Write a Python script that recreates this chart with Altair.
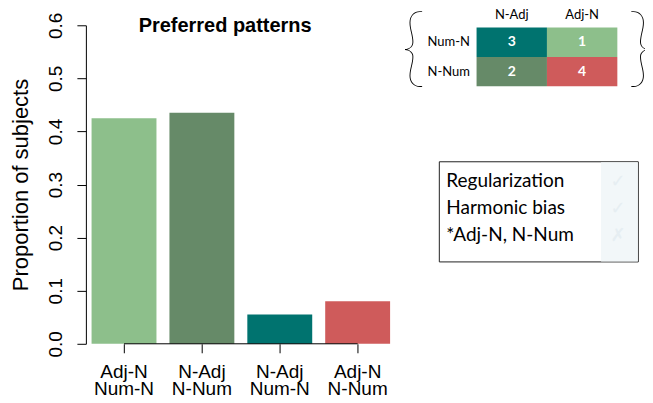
import altair as alt
import pandas as pd

# ---------------- data ----------------
categories = ["Adj-N Num-N", "N-Adj N-Num", "N-Adj Num-N", "Adj-N N-Num"]
proportions = [0.425, 0.435, 0.055, 0.080]
ranks = ["1", "2", "3", "4"]
y_ticks = [0.0, 0.1, 0.2, 0.3, 0.4, 0.5, 0.6]

grid_columns = ["N-Adj", "Adj-N"]
grid_rows = ["Num-N", "N-Num"]
cell_column = ["N-Adj", "Adj-N", "N-Adj", "Adj-N"]
cell_row = ["Num-N", "Num-N", "N-Num", "N-Num"]
cell_rank = ["3", "1", "2", "4"]

legend_items = ["Regularization", "Harmonic bias", "*Adj-N, N-Num"]
legend_checks = ["\u2713", "\u2713", "\u2717"]
chart_title = ["Preferred patterns"]
y_title = "Proportion of subjects"
braces = ["{", "}"]

# ---------------- styles / layout ----------------
palette = ["#8dbf8b", "#668a68", "#00736f", "#cf5b5b"]
W, H = 566, 319
AX_FONT = "Liberation Sans"
GILL = "Lato"

bars_df = pd.DataFrame({"pattern": categories, "prop": proportions, "rank": ranks})
x_scale = alt.Scale(domain=categories, range=[12.7, 311.7], paddingInner=0.1667, paddingOuter=0)
y_scale = alt.Scale(domain=[0, 0.6], nice=False, zero=False)

x_axis = alt.Axis(
    domain=False, ticks=True, tickSize=9, tickColor="black", tickWidth=1,
    labelFont=AX_FONT, labelFontSize=19, labelColor="black", labelAngle=0,
    labelBaseline="top", labelPadding=9.7, labelLineHeight=17.5,
    labelExpr="split(datum.label, ' ')", title=None, grid=False, offset=0,
)
y_axis = alt.Axis(
    values=y_ticks, format=".1f", grid=False, offset=-7,
    domainColor="black", domainWidth=1, tickColor="black", tickSize=9, tickWidth=1,
    labelFont=AX_FONT, labelFontSize=19, labelColor="black", labelAngle=-90,
    labelAlign="center", labelBaseline="alphabetic", labelPadding=15,
    labelOverlap=False, labelFlush=False,
    title=y_title, titleFont=AX_FONT, titleFontSize=22, titleFontWeight="normal",
    titleColor="black", titleAngle=-90, titleAlign="center", titleBaseline="alphabetic",
    titleX=-58, titleY=159.5,
)

bars = alt.Chart(bars_df).mark_bar().encode(
    x=alt.X("pattern:N", scale=x_scale, sort=categories, axis=x_axis),
    y=alt.Y("prop:Q", scale=y_scale, axis=y_axis),
    color=alt.Color("rank:N", scale=alt.Scale(domain=ranks, range=palette), legend=None),
)

axis_df = pd.DataFrame({"pattern": [categories[0]], "pattern_end": [categories[-1]]})
x_line = alt.Chart(axis_df).mark_rule(color="black", strokeWidth=1).encode(
    x=alt.X("pattern:N", scale=x_scale, sort=categories, axis=x_axis, bandPosition=0.5),
    x2=alt.X2("pattern_end:N", bandPosition=0.5),
    y=alt.value(H),
)

main = alt.layer(bars, x_line)

# ---------------- inset pattern table ----------------
grid_df = pd.DataFrame({"col": cell_column, "row": cell_row, "rank": cell_rank})
gx = alt.Scale(domain=grid_columns, range=[398.3, 539.3], paddingInner=0, paddingOuter=0)
gy = alt.Scale(domain=grid_rows, range=[2.3, 61.0], paddingInner=0, paddingOuter=0)

cells = alt.Chart(grid_df).mark_rect().encode(
    x=alt.X("col:N", scale=gx, axis=None),
    y=alt.Y("row:N", scale=gy, axis=None),
    color=alt.Color("rank:N", scale=alt.Scale(domain=ranks, range=palette), legend=None),
)
nums = alt.Chart(grid_df).mark_text(
    color="white", fontWeight="bold", font=GILL, fontSize=14, baseline="middle"
).encode(
    x=alt.X("col:N", scale=gx, axis=None),
    y=alt.Y("row:N", scale=gy, axis=None),
    text="rank:N",
)
col_lab = alt.Chart(pd.DataFrame({"col": grid_columns})).mark_text(
    font=GILL, fontSize=13, baseline="middle", color="black"
).encode(
    x=alt.X("col:N", scale=gx, axis=None),
    y=alt.value(-10.5),
    text="col:N",
)
row_lab = alt.Chart(pd.DataFrame({"row": grid_rows})).mark_text(
    font=GILL, fontSize=13, align="right", baseline="middle", color="black"
).encode(
    y=alt.Y("row:N", scale=gy, axis=None),
    x=alt.value(391.7),
    text="row:N",
)
heat = alt.layer(cells, nums, col_lab, row_lab)

brace_l = alt.Chart(pd.DataFrame({"b": [braces[0]]})).mark_text(
    font="Lato", fontWeight=200, fontSize=86, align="center", baseline="middle", color="black"
).encode(x=alt.value(335), y=alt.value(25), text="b:N")
brace_r = alt.Chart(pd.DataFrame({"b": [braces[1]]})).mark_text(
    font="Lato", fontWeight=200, fontSize=86, align="center", baseline="middle", color="black"
).encode(x=alt.value(562), y=alt.value(25), text="b:N")

# ---------------- title ----------------
title = alt.Chart(pd.DataFrame({"t": chart_title})).mark_text(
    font=AX_FONT, fontSize=20, fontWeight="bold", align="center", baseline="alphabetic", color="black"
).encode(x=alt.value(146.5), y=alt.value(7), text="t:N")

# ---------------- legend box ----------------
box = alt.Chart(pd.DataFrame({"a": [0]})).mark_rect(
    fill="white", stroke="#222222", strokeWidth=1
).encode(x=alt.value(361), x2=alt.value(560.3), y=alt.value(136.7), y2=alt.value(237))
shade = alt.Chart(pd.DataFrame({"a": [0]})).mark_rect(fill="#f2f7f9").encode(
    x=alt.value(523), x2=alt.value(559.8), y=alt.value(137.2), y2=alt.value(236.5)
)
leg_df = pd.DataFrame({"item": legend_items, "check": legend_checks})
leg_y = alt.Scale(type="point", domain=legend_items, range=[162, 215.7], padding=0)
leg_text = alt.Chart(leg_df).mark_text(
    font=GILL, fontSize=19, align="left", baseline="alphabetic", color="black"
).encode(x=alt.value(368), y=alt.Y("item:N", scale=leg_y, axis=None), text="item:N")
leg_check = alt.Chart(leg_df).mark_text(
    font="DejaVu Sans", fontSize=18, align="center", baseline="alphabetic", color="#e6eef2"
).encode(x=alt.value(540), y=alt.Y("item:N", scale=leg_y, axis=None), text="check:N")

chart = alt.layer(
    main, heat, brace_l, brace_r, title, box, shade, leg_text, leg_check
).resolve_scale(
    x="independent", y="independent", color="independent"
).properties(
    width=W, height=H, autosize=alt.AutoSizeParams(type="none"),
    padding={"left": 71, "top": 17, "right": 1, "bottom": 58},
    background="white",
).configure_view(stroke=None)

chart.save("out.html", embed_options={"renderer": "svg", "actions": False})
